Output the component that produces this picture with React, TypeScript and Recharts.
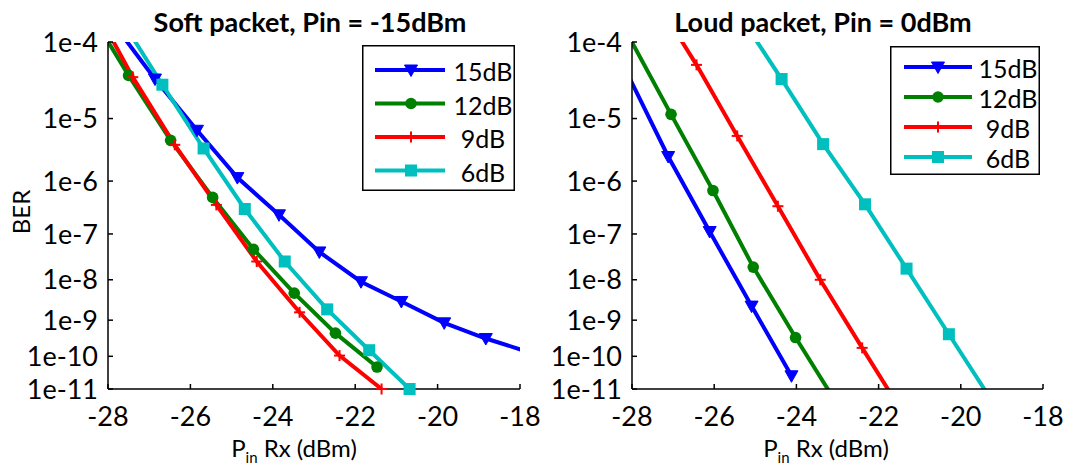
import React from 'react';
import { LineChart, Line, XAxis, YAxis, Legend } from 'recharts';

// ---------- axis definitions ----------
const X_MIN = -28;
const X_MAX = -18;
const xTicks = [-28, -26, -24, -22, -20, -18];
const berTicks = [1e-4, 1e-5, 1e-6, 1e-7, 1e-8, 1e-9, 1e-10, 1e-11];

// ---------- series definitions ----------
const seriesNames = ['15dB', '12dB', '9dB', '6dB'];
const seriesColors = ['#0000FF', '#008000', '#FF0000', '#00BFBF'];
const seriesMarkers = ['triangleDown', 'circle', 'plus', 'square'];

// ---------- Soft packet, Pin = -15dBm ----------
const softP15 = [-27.86, -26.86, -25.84, -24.86, -23.85, -22.87, -21.86, -20.88, -19.84, -18.83, -17.85];
const softBer15 = [1.6e-4, 3.5e-5, 6.7e-6, 1.15e-6, 2.4e-7, 4.2e-8, 9.0e-9, 3.0e-9, 8.5e-10, 3.2e-10, 1.4e-10];
const softP12 = [-28.5, -27.5, -26.48, -25.46, -24.47, -23.48, -22.48, -21.47];
const softBer12 = [2.4e-4, 3.9e-5, 4.7e-6, 5.1e-7, 4.8e-8, 4.8e-9, 4.5e-10, 4.8e-11];
const softP9 = [-28.4, -27.4, -26.38, -25.37, -24.39, -23.35, -22.38, -21.36];
const softBer9 = [2.8e-4, 3.7e-5, 4.0e-6, 3.7e-7, 2.6e-8, 1.6e-9, 1.05e-10, 1.0e-11];
const softP6 = [-27.68, -26.68, -25.68, -24.68, -23.71, -22.68, -21.66, -20.68];
const softBer6 = [1.8e-4, 2.95e-5, 3.5e-6, 3.1e-7, 2.6e-8, 1.9e-9, 1.5e-10, 1.0e-11];

// ---------- Loud packet, Pin = 0dBm ----------
const loudP15 = [-28.12, -27.12, -26.11, -25.09, -24.12];
const loudBer15 = [4.2e-5, 2.6e-6, 1.12e-7, 2.3e-9, 2.6e-11];
const loudP12 = [-28.05, -27.05, -26.03, -25.05, -24.02, -23.02];
const loudBer12 = [1.1e-4, 1.15e-5, 6.8e-7, 1.95e-8, 3.4e-10, 3.4e-12];
const loudP9 = [-27.44, -26.43, -25.44, -24.45, -23.42, -22.4, -21.4];
const loudBer9 = [3.0e-4, 5.3e-5, 5.5e-6, 3.5e-7, 1.0e-8, 1.75e-10, 1.5e-12];
const loudP6 = [-25.35, -24.36, -23.35, -22.33, -21.32, -20.29, -19.28];
const loudBer6 = [1.9e-4, 3.5e-5, 4.1e-6, 3.8e-7, 1.8e-8, 4.2e-10, 4.9e-12];

// ---------- BER axis transform: log10(-log10(BER)) ----------
const tOf = (ber: number) => Math.log10(-Math.log10(ber));
const yTicks = berTicks.map(tOf);
const yDomain: [number, number] = [yTicks[0], yTicks[yTicks.length - 1]];
const fmtBer = (v: number) => `1e-${Math.round(Math.pow(10, v))}`;

type Pt = { p: number; t: number };
const build = (ps: number[], bers: number[]): Pt[] => ps.map((p, i) => ({ p, t: tOf(bers[i]) }));
const inView = (pts: Pt[]) =>
  pts.filter(
    (d) => d.p >= X_MIN && d.p <= X_MAX && d.t >= yDomain[0] - 1e-9 && d.t <= yDomain[1] + 1e-9
  );

const softSeries = [build(softP15, softBer15), build(softP12, softBer12), build(softP9, softBer9), build(softP6, softBer6)];
const loudSeries = [build(loudP15, loudBer15), build(loudP12, loudBer12), build(loudP9, loudBer9), build(loudP6, loudBer6)];

const FONT = 'Lato, "Open Sans", sans-serif';

function renderMarker(kind: string, cx: number, cy: number, color: string, key?: string) {
  switch (kind) {
    case 'triangleDown':
      return (
        <polygon
          key={key}
          points={`${cx - 6.5},${cy - 5} ${cx + 6.5},${cy - 5} ${cx},${cy + 6.5}`}
          fill={color}
          stroke={color}
          strokeWidth={1}
        />
      );
    case 'circle':
      return <circle key={key} cx={cx} cy={cy} r={5.8} fill={color} />;
    case 'plus':
      return (
        <g key={key} stroke={color} strokeWidth={2}>
          <line x1={cx - 5.5} x2={cx + 5.5} y1={cy} y2={cy} />
          <line x1={cx} x2={cx} y1={cy - 5.5} y2={cy + 5.5} />
        </g>
      );
    default:
      return <rect key={key} x={cx - 6} y={cy - 6} width={12} height={12} fill={color} />;
  }
}

type LegendCfg = {
  left: number;
  top: number;
  w: number;
  h: number;
  row0: number;
  rowGap: number;
  lx1: number;
  lx2: number;
  mx: number;
  tx: number;
};

const makeLegend = (cfg: LegendCfg) => () => (
  <svg width={cfg.w} height={cfg.h} style={{ display: 'block' }}>
    <rect x={0.75} y={0.75} width={cfg.w - 1.5} height={cfg.h - 1.5} fill="#fff" stroke="#000" strokeWidth={1.5} />
    {seriesNames.map((name, i) => {
      const cy = cfg.row0 + i * cfg.rowGap;
      return (
        <g key={name}>
          <line x1={cfg.lx1} x2={cfg.lx2} y1={cy} y2={cy} stroke={seriesColors[i]} strokeWidth={4} />
          {renderMarker(seriesMarkers[i], cfg.mx, cy, seriesColors[i])}
          <text x={cfg.tx} y={cy + 1} textAnchor="middle" dominantBaseline="central" fontSize={25} fontFamily={FONT} fill="#000">
            {name}
          </text>
        </g>
      );
    })}
  </svg>
);

type PanelProps = {
  left: number;
  title: string;
  titleX: number;
  xLabelX: number;
  showBer: boolean;
  yAxisWidth: number;
  marginRight: number;
  series: Pt[][];
  legend: LegendCfg;
};

const tickStyle = { fontSize: 27, fill: '#000', fontFamily: FONT };
const axisLine = { stroke: '#000', strokeWidth: 1.5 };

function Panel({ left, title, titleX, xLabelX, showBer, yAxisWidth, marginRight, series, legend }: PanelProps) {
  return (
    <div style={{ position: 'absolute', left, top: 0, width: 546, height: 468 }}>
      <LineChart width={546} height={468} margin={{ top: 42, right: marginRight, bottom: 49, left: 0 }}>
        <XAxis
          xAxisId="b"
          type="number"
          dataKey="p"
          domain={[X_MIN, X_MAX]}
          ticks={xTicks}
          interval={0}
          allowDataOverflow
          height={30}
          tickSize={-5}
          tickMargin={23}
          tick={tickStyle}
          axisLine={axisLine}
          tickLine={axisLine}
          label={() => (
            <g>
              <text x={titleX} y={32} textAnchor="middle" fontSize={27} fontWeight="bold" fontFamily={FONT} fill="#000">
                {title}
              </text>
              <text x={xLabelX} y={457} textAnchor="middle" fontSize={24} fontFamily={FONT} fill="#000">
                <tspan>P</tspan>
                <tspan dy={6} fontSize={15}>in</tspan>
                <tspan dy={-6}> Rx (dBm)</tspan>
              </text>
            </g>
          )}
        />
        <XAxis
          xAxisId="t"
          orientation="top"
          type="number"
          dataKey="p"
          domain={[X_MIN, X_MAX]}
          ticks={xTicks}
          interval={0}
          height={0}
          tick={false}
          tickSize={-5}
          axisLine={axisLine}
          tickLine={axisLine}
        />
        <YAxis
          yAxisId="l"
          type="number"
          dataKey="t"
          domain={yDomain}
          ticks={yTicks}
          interval={0}
          reversed
          allowDataOverflow
          width={yAxisWidth}
          tickSize={-5}
          tickMargin={15}
          tickFormatter={fmtBer}
          tick={tickStyle}
          axisLine={axisLine}
          tickLine={axisLine}
          label={
            showBer
              ? () => (
                  <text
                    x={20}
                    y={212}
                    transform="rotate(-90, 20, 212)"
                    textAnchor="middle"
                    dominantBaseline="central"
                    fontSize={24}
                    fontFamily={FONT}
                    fill="#000"
                  >
                    BER
                  </text>
                )
              : undefined
          }
        />
        <YAxis
          yAxisId="r"
          orientation="right"
          type="number"
          dataKey="t"
          domain={yDomain}
          ticks={yTicks}
          interval={0}
          reversed
          width={0}
          tick={false}
          tickSize={-5}
          axisLine={axisLine}
          tickLine={axisLine}
        />
        {series.map((data, i) => (
          <React.Fragment key={seriesNames[i]}>
            <Line
              xAxisId="b"
              yAxisId="l"
              data={data}
              dataKey="t"
              name={seriesNames[i]}
              type="linear"
              stroke={seriesColors[i]}
              strokeWidth={4}
              dot={false}
              activeDot={false}
              legendType="none"
              isAnimationActive={false}
            />
            <Line
              xAxisId="t"
              yAxisId="r"
              data={inView(data)}
              dataKey="t"
              name={seriesNames[i] + ' markers'}
              type="linear"
              stroke="none"
              strokeWidth={0}
              dot={(props: any) => renderMarker(seriesMarkers[i], props.cx, props.cy, seriesColors[i], `m-${i}-${props.index}`)}
              activeDot={false}
              legendType="none"
              isAnimationActive={false}
            />
          </React.Fragment>
        ))}
        <Legend
          layout="vertical"
          align="center"
          verticalAlign="middle"
          content={makeLegend(legend)}
          wrapperStyle={{ left: legend.left, top: legend.top, width: legend.w, height: legend.h }}
        />
      </LineChart>
    </div>
  );
}

export default function App() {
  return (
    <div style={{ position: 'absolute', left: 0, top: 0, width: 1092, height: 468, background: '#fff' }}>
      <Panel
        left={0}
        title="Soft packet, Pin = -15dBm"
        titleX={310}
        xLabelX={294}
        showBer
        yAxisWidth={108}
        marginRight={26}
        series={softSeries}
        legend={{ left: 362, top: 45, w: 153, h: 146, row0: 25, rowGap: 33.5, lx1: 13, lx2: 83, mx: 49, tx: 121 }}
      />
      <Panel
        left={546}
        title="Loud packet, Pin = 0dBm"
        titleX={277}
        xLabelX={280}
        showBer={false}
        yAxisWidth={86}
        marginRight={49}
        series={loudSeries}
        legend={{ left: 344, top: 46, w: 150, h: 129, row0: 21, rowGap: 30, lx1: 14, lx2: 82, mx: 48, tx: 118 }}
      />
    </div>
  );
}
